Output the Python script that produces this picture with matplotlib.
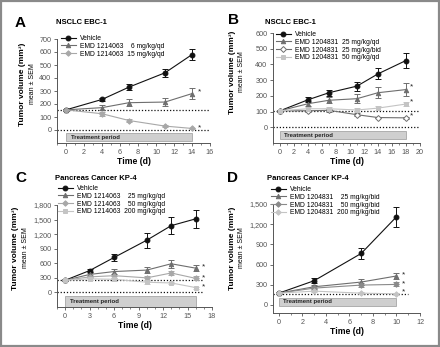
import numpy as np
import matplotlib.pyplot as plt
from matplotlib.patches import Rectangle
from matplotlib.ticker import FuncFormatter, MultipleLocator

# Panel A - NSCLC EBC-1, EMD 1214063
a_t = [0, 4, 7, 11, 14]
a_veh = [155, 235, 330, 440, 580]
a_veh_err = [8, 15, 22, 30, 40]
a_6 = [155, 172, 210, 215, 280]
a_6_err = [8, 20, 28, 28, 40]
a_15 = [155, 125, 73, 30, 12]
a_15_err = [8, 15, 8, 6, 4]

# Panel B - NSCLC EBC-1, EMD 1204831
b_t = [0, 4, 7, 11, 14, 18]
b_veh = [105, 175, 220, 262, 340, 425]
b_veh_err = [8, 15, 20, 28, 35, 45]
b_25qd = [105, 150, 172, 182, 220, 240]
b_25qd_err = [8, 15, 20, 30, 35, 42]
b_25bid = [105, 105, 108, 80, 62, 60]
b_25bid_err = [6, 8, 8, 8, 6, 6]
b_50qd = [105, 118, 118, 110, 122, 148]
b_50qd_err = [6, 10, 10, 12, 12, 15]

# Panel C - Pancreas KP-4, EMD 1214063
c_t = [0, 3, 6, 10, 13, 16]
c_veh = [250, 450, 720, 1075, 1375, 1515]
c_veh_err = [20, 30, 80, 150, 170, 190]
c_25 = [250, 370, 430, 460, 590, 500]
c_25_err = [20, 30, 50, 60, 80, 60]
c_50 = [250, 320, 345, 300, 400, 290]
c_50_err = [20, 30, 40, 40, 50, 40]
c_200 = [250, 280, 270, 210, 195, 100]
c_200_err = [20, 25, 30, 30, 30, 20]

# Panel D - Pancreas KP-4, EMD 1204831
d_t = [0, 3, 7, 10]
d_veh = [175, 360, 765, 1310]
d_veh_err = [15, 40, 85, 150]
d_25 = [175, 270, 340, 430]
d_25_err = [15, 30, 40, 50]
d_50 = [175, 250, 295, 305]
d_50_err = [15, 25, 30, 30]
d_200 = [175, 205, 175, 165]
d_200_err = [15, 20, 15, 15]

W, H = 440, 347
plt.rcParams['font.family'] = 'Liberation Sans'
fig = plt.figure(figsize=(W / 100, H / 100), dpi=100)
fig.patches.append(Rectangle((0.003, 0.004), 0.994, 0.992, transform=fig.transFigure,
                             fill=False, edgecolor='#8a8a8a', linewidth=1.6))

BLK = '#111111'
DGR = '#6e6e6e'
LGR = '#a8a8a8'
LLG = '#c4c4c4'


def px(x, y):
    return x / W, 1 - y / H


def axes_px(l, t, r, b):
    return fig.add_axes([l / W, 1 - b / H, (r - l) / W, (b - t) / H])


def series(ax, t, y, e, color, marker, label, mfc=None, ms=3.2):
    ax.errorbar(t, y, yerr=e, fmt='none', ecolor=color, elinewidth=0.7,
                capsize=2.0, capthick=0.7, zorder=3)
    ax.plot(t, y, color=color, marker=marker, ms=ms, lw=0.8,
            mfc=mfc if mfc else color, mec=color, mew=0.7, label=label, zorder=4)


def style(ax, xlim, ylim, xmaj, ymaj, box, base, zero=True, comma=False):
    for s in ['top', 'right']:
        ax.spines[s].set_visible(False)
    for s in ['left', 'bottom']:
        ax.spines[s].set_color('#555555')
        ax.spines[s].set_linewidth(0.7)
    ax.set_xlim(xlim)
    ax.set_ylim(ylim)
    ax.xaxis.set_minor_locator(MultipleLocator(1 if xmaj == 3 else xmaj / 2))
    ax.set_xticks(np.arange(0, xlim[1] + 0.01, xmaj))
    ax.set_yticks(np.arange(0, ylim[1] + 0.01, ymaj))
    if comma:
        ax.yaxis.set_major_formatter(FuncFormatter(lambda v, p: f'{int(v):,}'))
    ax.tick_params(labelsize=5.2, colors='#555555', length=2.5, width=0.6, pad=1.5)
    ax.tick_params(which='minor', length=1.5, width=0.5, colors='#555555')
    ax.set_xlabel('Time (d)', fontsize=6.2, fontweight='bold', labelpad=1)
    x0, x1, y0, y1 = box
    ax.add_patch(Rectangle((x0, y0), x1 - x0, y1 - y0, facecolor='#cfcfcf',
                           edgecolor='#999999', lw=0.5, zorder=1))
    ax.text(x0 + 0.03 * (xlim[1] - xlim[0]), (y0 + y1) / 2, 'Treatment period', fontsize=4.3,
            fontweight='bold', va='center', ha='left', color='#222222', zorder=2)
    ax.plot([xlim[0], base[1]], [base[0], base[0]], ls=(0, (1, 1.5)), color='#111111', lw=0.9, zorder=2)
    if zero:
        ax.plot([xlim[0], base[1]], [0, 0], ls=(0, (1, 1.5)), color='#111111', lw=0.9, zorder=2)


def labels(letter, lx, ly, title, tx, ty, ylx, yly):
    fig.text(*px(lx, ly), letter, fontsize=11, fontweight='bold', ha='left', va='center')
    fig.text(*px(tx, ty), title, fontsize=5.5, fontweight='bold', ha='left', va='center')
    fig.text(*px(ylx, yly), 'Tumor volume (mm\u00b3)', fontsize=6.0, fontweight='bold',
             rotation=90, ha='center', va='center')
    fig.text(*px(ylx + 9, yly), 'mean \u00b1 SEM', fontsize=5.0,
             rotation=90, ha='center', va='center')


def legend(ax, x, y):
    ax.legend(loc='upper left', bbox_to_anchor=px(x, y), bbox_transform=fig.transFigure,
              frameon=False, fontsize=4.9, handlelength=2.2, handletextpad=0.6,
              labelspacing=0.12, borderaxespad=0, borderpad=0)


def stars(ax, x, ys):
    for y in ys:
        ax.text(x, y, '*', fontsize=6, ha='left', va='center', color='#222222')


# Panel A
ax = axes_px(57, 39, 210, 143)
series(ax, a_t, a_veh, a_veh_err, BLK, 'o', 'Vehicle', ms=3.5)
series(ax, a_t, a_6, a_6_err, DGR, '^', 'EMD 1214063    6 mg/kg/qd')
series(ax, a_t, a_15, a_15_err, LGR, 'D', 'EMD 1214063  15 mg/kg/qd', ms=2.8)
style(ax, (-1, 16), (-100, 700), 2, 100, (0, 14, -85, -25), (155, 16.1))
legend(ax, 61, 35)
stars(ax, 14.6, [295, 20])
labels('A', 15, 23, 'NSCLC EBC-1', 56, 23, 23, 84)

# Panel B
ax = axes_px(273, 33, 420, 143)
series(ax, b_t, b_veh, b_veh_err, BLK, 'o', 'Vehicle', ms=3.5)
series(ax, b_t, b_25qd, b_25qd_err, DGR, '^', 'EMD 1204831  25 mg/kg/qd')
series(ax, b_t, b_25bid, b_25bid_err, DGR, 'D', 'EMD 1204831  25 mg/kg/bid', mfc='white', ms=3.0)
series(ax, b_t, b_50qd, b_50qd_err, LLG, 's', 'EMD 1204831  50 mg/kg/qd', ms=3.0)
style(ax, (-1, 20), (-100, 600), 2, 100, (0, 18, -76, -24), (105, 20))
legend(ax, 276, 31)
stars(ax, 18.6, [260, 160, 70])
labels('B', 228, 20, 'NSCLC EBC-1', 265, 23, 232.5, 72)

# Panel C
ax = axes_px(57, 205, 212, 307)
series(ax, c_t, c_veh, c_veh_err, BLK, 'o', 'Vehicle', ms=3.5)
series(ax, c_t, c_25, c_25_err, DGR, '^', 'EMD 1214063    25 mg/kg/qd')
series(ax, c_t, c_50, c_50_err, LGR, 'D', 'EMD 1214063    50 mg/kg/qd', ms=2.8)
series(ax, c_t, c_200, c_200_err, LLG, 's', 'EMD 1214063  200 mg/kg/qd', ms=3.0)
style(ax, (-1, 18), (-300, 1800), 3, 300, (0, 16, -300, -80), (250, 16.8), comma=True)
legend(ax, 58, 185)
stars(ax, 16.7, [520, 300, 110])
labels('C', 15, 178, 'Pancreas Cancer KP-4', 55, 178, 16, 248)

# Panel D
ax = axes_px(273, 204, 420, 313)
series(ax, d_t, d_veh, d_veh_err, BLK, 'o', 'Vehicle', ms=3.5)
series(ax, d_t, d_25, d_25_err, DGR, '^', 'EMD 1204831    25 mg/kg/bid')
series(ax, d_t, d_50, d_50_err, '#8a8a8a', 'D', 'EMD 1204831    50 mg/kg/bid', ms=2.8)
series(ax, d_t, d_200, d_200_err, LLG, 'D', 'EMD 1204831  200 mg/kg/bid', ms=2.8)
style(ax, (-0.5, 12), (-120, 1500), 2, 300, (0, 10, -15, 104), (165, 11), zero=False, comma=True)
legend(ax, 271, 186)
stars(ax, 10.5, [450, 320, 200])
labels('D', 227, 178, 'Pancreas Cancer KP-4', 267, 178, 232, 248)

fig.savefig('out.png', dpi=100)
